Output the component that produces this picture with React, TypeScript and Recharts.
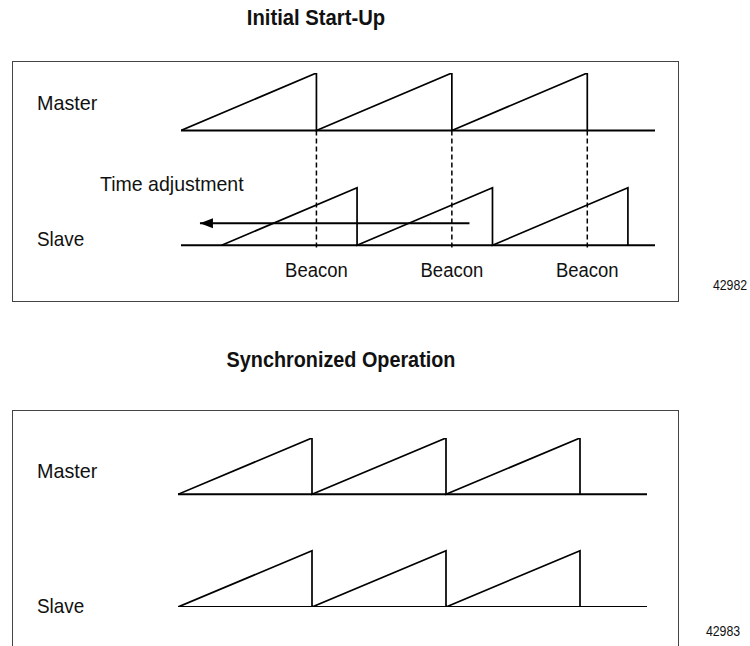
import React from 'react';
import { LineChart, Line, XAxis, YAxis, ReferenceLine } from 'recharts';

const FONT = "'Liberation Sans', Arial, sans-serif";

// time is in beacon periods; level 0 = slave baseline, level 2 = master baseline
const beaconTimes = [1, 2, 3];
const beaconLabel = 'Beacon';
const endTime = 3.5;

const startupMaster = [
  { t: 0, v: 2 }, { t: 1, v: 3 }, { t: 1, v: 2 }, { t: 2, v: 3 },
  { t: 2, v: 2 }, { t: 3, v: 3 }, { t: 3, v: 2 },
];
const startupSlave = [
  { t: 0.3, v: 0 }, { t: 1.3, v: 1 }, { t: 1.3, v: 0 }, { t: 2.3, v: 1 },
  { t: 2.3, v: 0 }, { t: 3.3, v: 1 }, { t: 3.3, v: 0 },
];
const adjustArrow = [{ t: 2.13, v: 0.385 }, { t: 0.14, v: 0.385 }];

const syncMaster = [
  { t: 0, v: 2 }, { t: 1, v: 3 }, { t: 1, v: 2 }, { t: 2, v: 3 },
  { t: 2, v: 2 }, { t: 3, v: 3 }, { t: 3, v: 2 },
];
const syncSlave = [
  { t: 0, v: 0 }, { t: 1, v: 1 }, { t: 1, v: 0 }, { t: 2, v: 1 },
  { t: 2, v: 0 }, { t: 3, v: 1 }, { t: 3, v: 0 },
];

const masterBase = [{ t: 0, v: 2 }, { t: endTime, v: 2 }];
const slaveBase = [{ t: 0, v: 0 }, { t: endTime, v: 0 }];

// condensed look: squeeze Liberation Sans horizontally
const Txt = ({ x, cy, size, bold, center, sx = 0.92, children }: any) => (
  <div
    style={{
      position: 'absolute',
      left: x,
      top: cy - size * 0.5,
      fontSize: size,
      lineHeight: 1,
      fontFamily: FONT,
      fontWeight: bold ? 700 : 400,
      whiteSpace: 'nowrap',
      transform: center ? `translateX(-50%) scaleX(${sx})` : `scaleX(${sx})`,
      transformOrigin: center ? 'center center' : 'left center',
      color: '#111',
    }}
  >
    {children}
  </div>
);

const Box = ({ left, top, width, height }: any) => (
  <div
    style={{
      position: 'absolute',
      left,
      top,
      width,
      height,
      boxSizing: 'border-box',
      border: '1.5px solid #444',
      pointerEvents: 'none',
    }}
  />
);

const BeaconTick = ({ x, y, payload }: any) => (
  <text
    transform={`translate(${x},${y}) scale(0.88,1)`}
    textAnchor="middle"
    dy="0.71em"
    fontSize={21}
    fontFamily={FONT}
    fill="#111"
  >
    {beaconLabel}
  </text>
);

const ArrowHead = (props: any) => {
  const { cx, cy, index } = props;
  if (index !== 1) return <g key={`ah-${index}`} />;
  return <path key={`ah-${index}`} d={`M${cx},${cy} L${cx + 13},${cy - 5} L${cx + 13},${cy + 5} Z`} fill="#000" />;
};

const saw = { type: 'linear' as const, stroke: '#000', dot: false, isAnimationActive: false, dataKey: 'v' };

export default function App() {
  return (
    <div style={{ position: 'absolute', left: 0, top: 0, width: 750, height: 646, overflow: 'hidden', background: '#fff' }}>
      <Txt x={316} cy={18} size={22} bold center>Initial Start-Up</Txt>

      <div style={{ position: 'absolute', left: 12, top: 61 }}>
        <LineChart width={666} height={240} margin={{ top: 12, right: 23, bottom: 10, left: 169 }}>
          <XAxis
            type="number"
            dataKey="t"
            domain={[0, endTime]}
            allowDataOverflow
            ticks={beaconTimes}
            axisLine={false}
            tickLine={false}
            tickSize={0}
            tickMargin={11}
            height={40}
            tick={<BeaconTick />}
          />
          <YAxis type="number" hide domain={[-0.1, 3]} allowDataOverflow />
          {beaconTimes.map((b) => (
            <ReferenceLine
              key={b}
              segment={[{ x: b, y: 2 }, { x: b, y: -0.09 }]}
              stroke="#000"
              strokeWidth={1.5}
              strokeDasharray="5 3"
            />
          ))}
          <Line {...saw} data={masterBase} strokeWidth={2} />
          <Line {...saw} data={startupMaster} strokeWidth={1.7} />
          <Line {...saw} data={slaveBase} strokeWidth={2} />
          <Line {...saw} data={startupSlave} strokeWidth={1.7} />
          <Line {...saw} data={adjustArrow} strokeWidth={2} dot={ArrowHead} />
        </LineChart>
      </div>
      <Box left={12} top={61} width={667} height={241} />
      <Txt x={37} cy={102} size={21} sx={0.94}>Master</Txt>
      <Txt x={100} cy={183} size={21} sx={0.93}>Time adjustment</Txt>
      <Txt x={37} cy={238} size={21} sx={0.9}>Slave</Txt>
      <Txt x={730} cy={284} size={15} sx={0.82} center>42982</Txt>

      <Txt x={341} cy={360} size={22} bold sx={0.9} center>Synchronized Operation</Txt>

      <div style={{ position: 'absolute', left: 12, top: 410 }}>
        <LineChart width={666} height={250} margin={{ top: 28, right: 31, bottom: 53, left: 166 }}>
          <XAxis type="number" dataKey="t" domain={[0, endTime]} allowDataOverflow hide />
          <YAxis type="number" hide domain={[0, 3]} allowDataOverflow />
          <Line {...saw} data={masterBase} strokeWidth={2} />
          <Line {...saw} data={syncMaster} strokeWidth={1.7} />
          <Line {...saw} data={slaveBase} strokeWidth={2} />
          <Line {...saw} data={syncSlave} strokeWidth={1.7} />
        </LineChart>
      </div>
      <Box left={12} top={410} width={667} height={260} />
      <Txt x={37} cy={470} size={21} sx={0.94}>Master</Txt>
      <Txt x={37} cy={605} size={21} sx={0.9}>Slave</Txt>
      <Txt x={723} cy={630} size={15} sx={0.82} center>42983</Txt>
    </div>
  );
}
